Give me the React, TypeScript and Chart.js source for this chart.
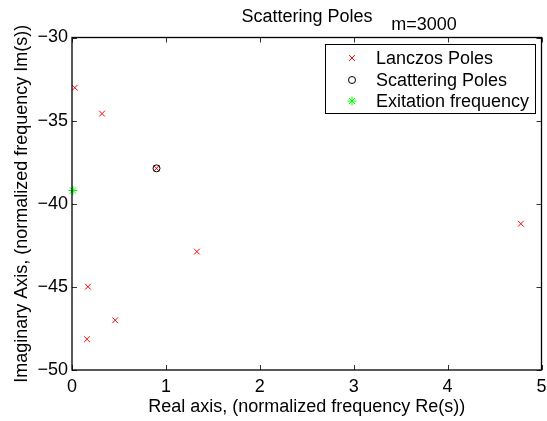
import React, { useEffect, useRef } from "react";
import { Chart, registerables } from "chart.js";

Chart.register(...registerables);

const lanczosRe = [0.03, 0.32, 0.9, 0.17, 0.46, 0.16, 1.33, 4.78];
const lanczosIm = [-33.02, -34.58, -37.87, -44.99, -47.01, -48.15, -42.88, -41.2];
const scatterRe = [0.9];
const scatterIm = [-37.87];
const excitRe = [0.01];
const excitIm = [-39.2];
const xTicks = [0, 1, 2, 3, 4, 5];
const yTicks = [-50, -45, -40, -35, -30];
const legendLabels = ["Lanczos Poles", "Scattering Poles", "Exitation frequency"];

const FONT = "'Liberation Sans', Arial, Helvetica, sans-serif";

function drawMarker(ctx: CanvasRenderingContext2D, kind: string, x: number, y: number) {
  ctx.save();
  ctx.lineWidth = 1;
  if (kind === "x") {
    ctx.strokeStyle = "#ff0000";
    const d = 2.9;
    ctx.beginPath();
    ctx.moveTo(x - d, y - d);
    ctx.lineTo(x + d, y + d);
    ctx.moveTo(x - d, y + d);
    ctx.lineTo(x + d, y - d);
    ctx.stroke();
  } else if (kind === "o") {
    ctx.strokeStyle = "#000000";
    ctx.beginPath();
    ctx.arc(x, y, 3.5, 0, Math.PI * 2);
    ctx.stroke();
  } else {
    ctx.strokeStyle = "#00ff00";
    const r = 4.5;
    const d = r * 0.707;
    ctx.beginPath();
    ctx.moveTo(x - r, y);
    ctx.lineTo(x + r, y);
    ctx.moveTo(x, y - r);
    ctx.lineTo(x, y + r);
    ctx.moveTo(x - d, y - d);
    ctx.lineTo(x + d, y + d);
    ctx.moveTo(x - d, y + d);
    ctx.lineTo(x + d, y - d);
    ctx.stroke();
  }
  ctx.restore();
}

const framePlugin = {
  id: "frame",
  afterDraw(chart: any) {
    const { ctx, chartArea: a, scales } = chart;
    const xs = scales.x;
    const ys = scales.y;
    ctx.save();
    ctx.strokeStyle = "#333333";
    ctx.lineWidth = 1;
    const L = 5;
    ctx.beginPath();
    for (const t of xTicks) {
      const px = Math.round(xs.getPixelForValue(t)) + 0.5;
      ctx.moveTo(px, a.bottom);
      ctx.lineTo(px, a.bottom - L);
      ctx.moveTo(px, a.top);
      ctx.lineTo(px, a.top + L);
    }
    for (const t of yTicks) {
      const py = Math.round(ys.getPixelForValue(t)) + 0.5;
      ctx.moveTo(a.left, py);
      ctx.lineTo(a.left + L, py);
      ctx.moveTo(a.right, py);
      ctx.lineTo(a.right - L, py);
    }
    ctx.stroke();
    ctx.strokeStyle = "#000000";
    ctx.lineWidth = 1.3;
    ctx.strokeRect(a.left, a.top, a.right - a.left, a.bottom - a.top);

    ctx.fillStyle = "#000000";
    ctx.font = `18px ${FONT}`;
    ctx.textAlign = "center";
    ctx.textBaseline = "middle";
    ctx.fillText("Scattering Poles", 307, 17);
    ctx.fillText("m=3000", 424, 25);

    const lx = 325, ly = 44, lw = 210, lh = 69;
    ctx.fillStyle = "#ffffff";
    ctx.fillRect(lx, ly, lw, lh);
    ctx.strokeStyle = "#000000";
    ctx.lineWidth = 1;
    ctx.strokeRect(lx + 0.5, ly + 0.5, lw, lh);
    const rows = [58, 80, 101];
    const kinds = ["x", "o", "*"];
    ctx.fillStyle = "#000000";
    ctx.textAlign = "left";
    for (let i = 0; i < 3; i++) {
      drawMarker(ctx, kinds[i], 352, rows[i]);
      ctx.fillText(legendLabels[i], 376, rows[i] + 1);
    }
    ctx.restore();
  },
};

export default function App() {
  const ref = useRef<HTMLCanvasElement>(null);
  useEffect(() => {
    document.body.style.margin = "0";
    const canvas = ref.current!;
    const toPts = (xs: number[], ys: number[]) => xs.map((x, i) => ({ x, y: ys[i] }));
    const minus = (v: any) => String(v).replace("-", "\u2212");
    const chart = new Chart(canvas, {
      type: "scatter",
      data: {
        datasets: [
          {
            label: legendLabels[1],
            data: toPts(scatterRe, scatterIm),
            pointStyle: "circle",
            pointRadius: 3.5,
            borderColor: "#000000",
            backgroundColor: "rgba(0,0,0,0)",
            borderWidth: 1,
            clip: false,
            order: 1,
          } as any,
          {
            label: legendLabels[0],
            data: toPts(lanczosRe, lanczosIm),
            pointStyle: "crossRot",
            pointRadius: 4.1,
            borderColor: "#ff0000",
            backgroundColor: "#ff0000",
            borderWidth: 1,
            clip: false,
            order: 2,
          } as any,
          {
            label: legendLabels[2],
            data: toPts(excitRe, excitIm),
            pointStyle: "star",
            pointRadius: 4.5,
            borderColor: "#00ff00",
            backgroundColor: "#00ff00",
            borderWidth: 1,
            clip: false,
            order: 3,
          } as any,
        ],
      },
      options: {
        animation: false,
        responsive: false,
        maintainAspectRatio: false,
        layout: { padding: { top: 37.5, right: 5, left: 0, bottom: 0 } },
        plugins: { legend: { display: false }, title: { display: false }, tooltip: { enabled: false } },
        scales: {
          x: {
            type: "linear",
            min: 0,
            max: 5,
            afterFit: (s: any) => { s.height = 51; s.paddingLeft = 0; s.paddingRight = 0; },
            afterBuildTicks: (s: any) => { s.ticks = xTicks.map((v) => ({ value: v })); },
            grid: { display: false, drawTicks: false },
            border: { display: false },
            ticks: { padding: 6, color: "#000000", font: { family: FONT, size: 18 }, callback: minus },
            title: {
              display: true,
              text: "Real axis, (normalized frequency Re(s))",
              color: "#000000",
              font: { family: FONT, size: 18 },
              padding: { top: 0, bottom: 3.5 },
            },
          },
          y: {
            type: "linear",
            min: -50,
            max: -30,
            afterFit: (s: any) => { s.width = 72; s.paddingTop = 0; s.paddingBottom = 0; },
            afterBuildTicks: (s: any) => { s.ticks = yTicks.map((v) => ({ value: v })); },
            grid: { display: false, drawTicks: false },
            border: { display: false },
            ticks: { padding: 4, color: "#000000", font: { family: FONT, size: 18 }, callback: minus },
            title: {
              display: true,
              text: "Imaginary Axis, (normalized frequency Im(s))",
              color: "#000000",
              font: { family: FONT, size: 18 },
              padding: { top: 11, bottom: 0 },
            },
          },
        },
      } as any,
      plugins: [framePlugin],
    });
    return () => chart.destroy();
  }, []);
  return (
    <div style={{ width: 547, height: 421 }}>
      <canvas ref={ref} width={547} height={421} style={{ display: "block", width: 547, height: 421 }} />
    </div>
  );
}
